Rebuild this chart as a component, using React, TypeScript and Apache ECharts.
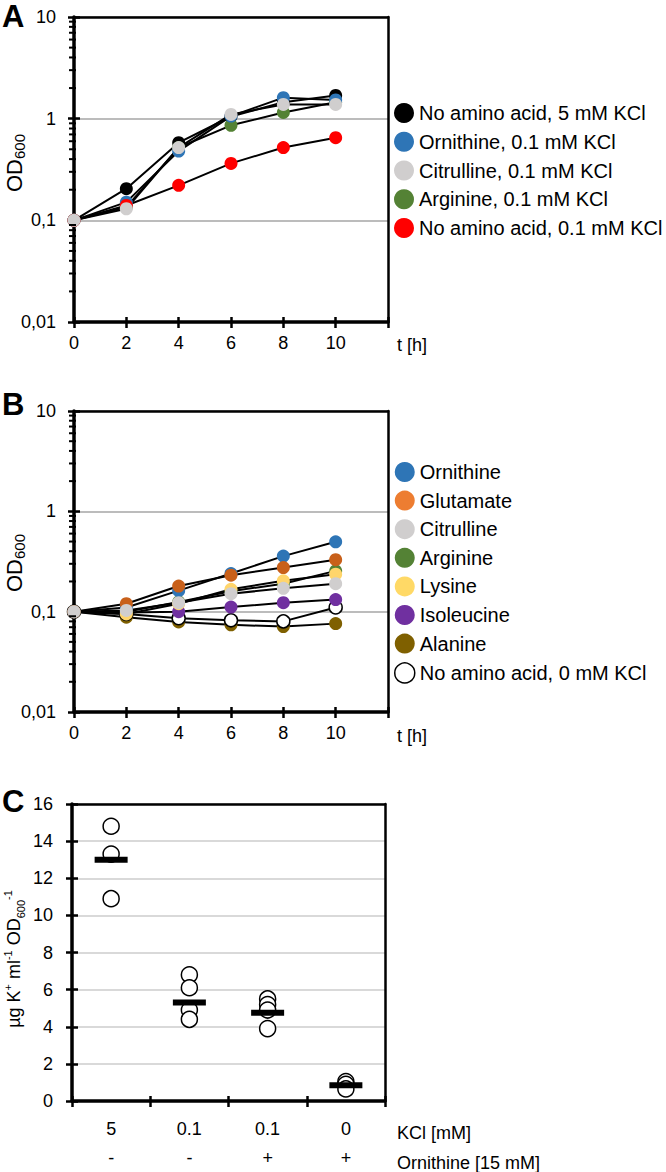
import React, { useEffect, useRef } from "react";
import * as echarts from "echarts";

// ---------- data ----------
const HOURS = [0, 2, 4, 6, 8, 10];

// Panel A
const A_NAMES = [
  "No amino acid, 5 mM KCl",
  "Ornithine, 0.1 mM KCl",
  "Citrulline, 0.1 mM KCl",
  "Arginine, 0.1 mM KCl",
  "No amino acid, 0.1 mM KCl",
];
const A_NOAA_5 = [0.1, 0.205, 0.58, 1.05, 1.45, 1.69];
const A_ORN = [0.1, 0.151, 0.48, 1.06, 1.61, 1.53];
const A_CIT = [0.1, 0.13, 0.52, 1.1, 1.38, 1.38];
const A_ARG = [0.1, 0.135, 0.52, 0.86, 1.15, 1.45];
const A_NOAA_01 = [0.1, 0.14, 0.221, 0.363, 0.52, 0.65];

// Panel B
const B_NAMES = [
  "Ornithine",
  "Glutamate",
  "Citrulline",
  "Arginine",
  "Lysine",
  "Isoleucine",
  "Alanine",
  "No amino acid, 0 mM KCl",
];
const B_ORN = [0.1, 0.11, 0.162, 0.24, 0.358, 0.497];
const B_GLU = [0.1, 0.12, 0.18, 0.231, 0.275, 0.33];
const B_CIT = [0.1, 0.103, 0.123, 0.151, 0.171, 0.19];
const B_ARG = [0.1, 0.1, 0.125, 0.16, 0.19, 0.255];
const B_LYS = [0.1, 0.095, 0.12, 0.167, 0.203, 0.236];
const B_ILE = [0.1, 0.098, 0.1, 0.111, 0.123, 0.132];
const B_ALA = [0.1, 0.088, 0.079, 0.074, 0.071, 0.076];
const B_NOAA_0 = [0.1, 0.095, 0.086, 0.082, 0.08, 0.11];

const LOG_MINOR_TICKS = [
  0.02, 0.03, 0.04, 0.05, 0.06, 0.07, 0.08, 0.09,
  0.2, 0.3, 0.4, 0.5, 0.6, 0.7, 0.8, 0.9,
  2, 3, 4, 5, 6, 7, 8, 9,
];

// Panel C
const C_CATS = ["c1", "c2", "c3", "c4"];
const C_KCL = ["5", "0.1", "0.1", "0"];
const C_ORN = ["-", "-", "+", "+"];
const C_POINTS = [
  [14.8, 13.3, 10.9],
  [6.8, 6.1, 4.9, 4.4],
  [5.5, 5.2, 4.9, 3.9],
  [1.05, 0.9, 0.65],
];
const C_MEANS = [13.0, 5.3, 4.75, 0.85];

// ---------- helpers ----------
const FONT = "Liberation Sans";
const TICK_FONT = 18;
const AXIS_W = 3.5;
const TICK_W = 2.5;

const logFmt = (v: number) => String(parseFloat(v.toPrecision(4))).replace(".", ",");

function timeAxes(grid: number) {
  return [
    {
      gridIndex: grid,
      type: "value",
      position: "bottom",
      min: 0,
      max: 12,
      interval: 2,
      axisLine: { show: true, onZero: false, lineStyle: { color: "#000", width: AXIS_W } },
      axisTick: { show: true, length: 6, lineStyle: { color: "#000", width: TICK_W } },
      axisLabel: {
        formatter: (v: number) => (v === 12 ? "" : String(v)),
        margin: 12,
        fontSize: TICK_FONT,
        color: "#000",
        fontFamily: FONT,
      },
      splitLine: { show: false },
    },
    {
      gridIndex: grid,
      type: "value",
      position: "bottom",
      min: 0,
      max: 12,
      interval: 2,
      axisLine: { show: false, onZero: false },
      axisTick: { show: true, inside: true, length: 5, lineStyle: { color: "#000", width: TICK_W } },
      axisLabel: { show: false },
      splitLine: { show: false },
    },
  ];
}

function logAxes(grid: number) {
  return [
    {
      gridIndex: grid,
      type: "log",
      position: "left",
      logBase: 10,
      min: 0.01,
      max: 10,
      axisLine: { show: true, onZero: false, lineStyle: { color: "#000", width: AXIS_W } },
      axisTick: { show: true, length: 6, lineStyle: { color: "#000", width: TICK_W } },
      axisLabel: { formatter: logFmt, margin: 18, fontSize: TICK_FONT, color: "#000", fontFamily: FONT },
      splitLine: { show: true, lineStyle: { color: "#a6a6a6", width: 1.5 } },
    },
    {
      gridIndex: grid,
      type: "log",
      position: "left",
      logBase: 10,
      min: 0.01,
      max: 10,
      axisLine: { show: false, onZero: false },
      axisTick: { show: true, inside: true, length: 6, lineStyle: { color: "#000", width: TICK_W } },
      axisLabel: { show: false },
      splitLine: { show: false },
    },
  ];
}

function borderAxis(grid: number, position: string) {
  return {
    gridIndex: grid,
    type: "value",
    position,
    min: 0,
    max: 1,
    axisLine: { show: true, onZero: false, lineStyle: { color: "#000", width: 2.5 } },
    axisTick: { show: false },
    axisLabel: { show: false },
    splitLine: { show: false },
  };
}

function minorTickSeries(xIdx: number, yIdx: number) {
  return {
    type: "custom",
    xAxisIndex: xIdx,
    yAxisIndex: yIdx,
    silent: true,
    z: 5,
    data: LOG_MINOR_TICKS.map((v) => [0, v]),
    renderItem: (_p: any, api: any) => {
      const pt = api.coord([0, api.value(1)]);
      return {
        type: "line",
        shape: { x1: pt[0] - 5, y1: pt[1], x2: pt[0] + 2, y2: pt[1] },
        style: { stroke: "#000", lineWidth: 2 },
      };
    },
  };
}

function lineSeries(name: string, vals: number[], color: string, xIdx: number, yIdx: number, open = false) {
  return {
    type: "line",
    name,
    xAxisIndex: xIdx,
    yAxisIndex: yIdx,
    data: HOURS.map((h, i) => [h, vals[i]]),
    symbol: "circle",
    symbolSize: 13,
    showSymbol: true,
    z: 2,
    itemStyle: open
      ? { color: "#fff", borderColor: "#000", borderWidth: 1.5 }
      : { color, borderWidth: 0 },
    lineStyle: { color: "#000", width: 2 },
    emphasis: { disabled: true },
  };
}

function text(x: number, y: number, t: string, fontSize: number, extra: any = {}) {
  return {
    type: "text",
    x,
    y,
    silent: true,
    style: {
      text: t,
      fontSize,
      fontFamily: FONT,
      fill: "#000",
      align: "left",
      verticalAlign: "middle",
      ...extra,
    },
  };
}

function odLabel(x: number, y: number) {
  return {
    type: "text",
    x,
    y,
    rotation: Math.PI / 2,
    silent: true,
    style: {
      text: "{a|OD}{b|600}",
      align: "center",
      verticalAlign: "middle",
      fill: "#000",
      fontFamily: FONT,
      rich: {
        a: { fontSize: 22, lineHeight: 26, verticalAlign: "middle", fontFamily: FONT, fill: "#000" },
        b: { fontSize: 15, lineHeight: 15, verticalAlign: "bottom", fontFamily: FONT, fill: "#000" },
      },
    },
  };
}

export default function App() {
  const ref = useRef<HTMLDivElement>(null);
  useEffect(() => {
    if (!ref.current) return;
    const chart = echarts.init(ref.current, undefined, { renderer: "svg" });

    const cScatter: any[] = [];
    C_POINTS.forEach((pts, i) => pts.forEach((v) => cScatter.push([C_CATS[i], v])));

    const option: any = {
      animation: false,
      textStyle: { fontFamily: FONT },
      grid: [
        { left: 74, top: 17, width: 314, height: 305 },
        { left: 74, top: 411, width: 314, height: 301 },
        { left: 72, top: 804, width: 313, height: 301 },
      ],
      xAxis: [
        ...timeAxes(0),
        ...timeAxes(1),
        {
          gridIndex: 2,
          type: "category",
          position: "bottom",
          data: C_CATS,
          axisLine: { show: true, onZero: false, lineStyle: { color: "#000", width: AXIS_W } },
          axisTick: { show: true, length: 6, interval: 0, lineStyle: { color: "#000", width: TICK_W } },
          axisLabel: {
            interval: 0,
            formatter: (_v: string, i: number) => `${C_KCL[i]}\n${C_ORN[i]}`,
            margin: 13,
            fontSize: TICK_FONT,
            lineHeight: 29,
            color: "#000",
            fontFamily: FONT,
          },
          splitLine: { show: false },
        },
        {
          gridIndex: 2,
          type: "category",
          position: "bottom",
          data: C_CATS,
          axisLine: { show: false, onZero: false },
          axisTick: { show: true, inside: true, length: 5, interval: 0, lineStyle: { color: "#000", width: TICK_W } },
          axisLabel: { show: false },
          splitLine: { show: false },
        },
        borderAxis(0, "top"),
        borderAxis(1, "top"),
        borderAxis(2, "top"),
      ],
      yAxis: [
        ...logAxes(0),
        ...logAxes(1),
        {
          gridIndex: 2,
          type: "value",
          position: "left",
          min: 0,
          max: 16,
          interval: 2,
          axisLine: { show: true, onZero: false, lineStyle: { color: "#000", width: AXIS_W } },
          axisTick: { show: true, length: 6, lineStyle: { color: "#000", width: TICK_W } },
          axisLabel: { margin: 19, fontSize: TICK_FONT, color: "#000", fontFamily: FONT },
          splitLine: { show: true, lineStyle: { color: "#d9d9d9", width: 2 } },
        },
        {
          gridIndex: 2,
          type: "value",
          position: "left",
          min: 0,
          max: 16,
          interval: 2,
          axisLine: { show: false, onZero: false },
          axisTick: { show: true, inside: true, length: 6, lineStyle: { color: "#000", width: TICK_W } },
          axisLabel: { show: false },
          splitLine: { show: false },
        },
        borderAxis(0, "right"),
        borderAxis(1, "right"),
        borderAxis(2, "right"),
      ],
      legend: [
        {
          orient: "vertical",
          left: 394,
          top: 103,
          padding: 0,
          icon: "circle",
          itemWidth: 20,
          itemHeight: 20,
          itemGap: 8.75,
          selectedMode: false,
          textStyle: { fontSize: 20, lineHeight: 20, color: "#000", fontFamily: FONT },
          data: A_NAMES,
        },
        {
          orient: "vertical",
          left: 394,
          top: 462,
          padding: 0,
          icon: "circle",
          itemWidth: 20,
          itemHeight: 20,
          itemGap: 8.6,
          selectedMode: false,
          textStyle: { fontSize: 20, lineHeight: 20, color: "#000", fontFamily: FONT },
          data: [
            { name: "Ornithine", itemStyle: { color: "#2e75b6" } },
            { name: "Glutamate", itemStyle: { color: "#ed7d31" } },
            { name: "Citrulline", itemStyle: { color: "#d0cece" } },
            { name: "Arginine", itemStyle: { color: "#548235" } },
            { name: "Lysine", itemStyle: { color: "#ffd966" } },
            { name: "Isoleucine", itemStyle: { color: "#7030a0" } },
            { name: "Alanine", itemStyle: { color: "#7f6000" } },
            { name: "No amino acid, 0 mM KCl", itemStyle: { color: "#fff", borderColor: "#000", borderWidth: 1.5 } },
          ],
        },
      ],
      series: [
        minorTickSeries(0, 0),
        minorTickSeries(2, 2),
        lineSeries(A_NAMES[0], A_NOAA_5, "#000000", 0, 0),
        lineSeries(A_NAMES[3], A_ARG, "#548235", 0, 0),
        lineSeries(A_NAMES[1], A_ORN, "#2e75b6", 0, 0),
        lineSeries(A_NAMES[4], A_NOAA_01, "#ff0000", 0, 0),
        lineSeries(A_NAMES[2], A_CIT, "#d0cece", 0, 0),

        lineSeries(B_NAMES[6], B_ALA, "#7f6000", 2, 2),
        lineSeries(B_NAMES[7], B_NOAA_0, "#fff", 2, 2, true),
        lineSeries(B_NAMES[5], B_ILE, "#7030a0", 2, 2),
        lineSeries(B_NAMES[3], B_ARG, "#548235", 2, 2),
        lineSeries(B_NAMES[4], B_LYS, "#ffd56b", 2, 2),
        lineSeries(B_NAMES[0], B_ORN, "#2e75b6", 2, 2),
        lineSeries(B_NAMES[1], B_GLU, "#c8601a", 2, 2),
        lineSeries(B_NAMES[2], B_CIT, "#d0cece", 2, 2),

        {
          type: "scatter",
          xAxisIndex: 4,
          yAxisIndex: 4,
          data: cScatter,
          symbol: "circle",
          symbolSize: 16,
          itemStyle: { color: "#fff", borderColor: "#000", borderWidth: 1.5, opacity: 1 },
          z: 2,
          emphasis: { disabled: true },
        },
        {
          type: "scatter",
          xAxisIndex: 4,
          yAxisIndex: 4,
          data: C_MEANS.map((v, i) => [C_CATS[i], v]),
          symbol: "rect",
          symbolSize: [33, 6],
          itemStyle: { color: "#000", opacity: 1 },
          z: 3,
          emphasis: { disabled: true },
        },
      ],
      graphic: [
        text(2, 16, "A", 31, { fontWeight: "bold" }),
        text(2, 404, "B", 31, { fontWeight: "bold" }),
        text(2, 801, "C", 31, { fontWeight: "bold" }),
        text(397, 345, "t [h]", 18),
        text(397, 736, "t [h]", 18),
        odLabel(14, 163),
        odLabel(14, 563),
        {
          type: "text",
          x: 14,
          y: 959,
          rotation: Math.PI / 2,
          silent: true,
          style: {
            text: "{m|µg K}{sp|+}{m| ml}{sp|-1}{m| OD}{sb|600}{sp|-1}",
            align: "center",
            verticalAlign: "middle",
            fill: "#000",
            fontFamily: FONT,
            rich: {
              m: { fontSize: 18, lineHeight: 24, verticalAlign: "middle", fontFamily: FONT, fill: "#000" },
              sp: { fontSize: 11, lineHeight: 11, verticalAlign: "top", fontFamily: FONT, fill: "#000" },
              sb: { fontSize: 11, lineHeight: 11, verticalAlign: "bottom", fontFamily: FONT, fill: "#000" },
            },
          },
        },
        text(397, 1133, "KCl [mM]", 18),
        text(397, 1162.5, "Ornithine [15 mM]", 18),
      ],
    };
    chart.setOption(option);
    return () => chart.dispose();
  }, []);

  return (
    <div
      ref={ref}
      style={{ position: "fixed", left: 0, top: 0, width: 666, height: 1172, background: "#fff" }}
    />
  );
}
